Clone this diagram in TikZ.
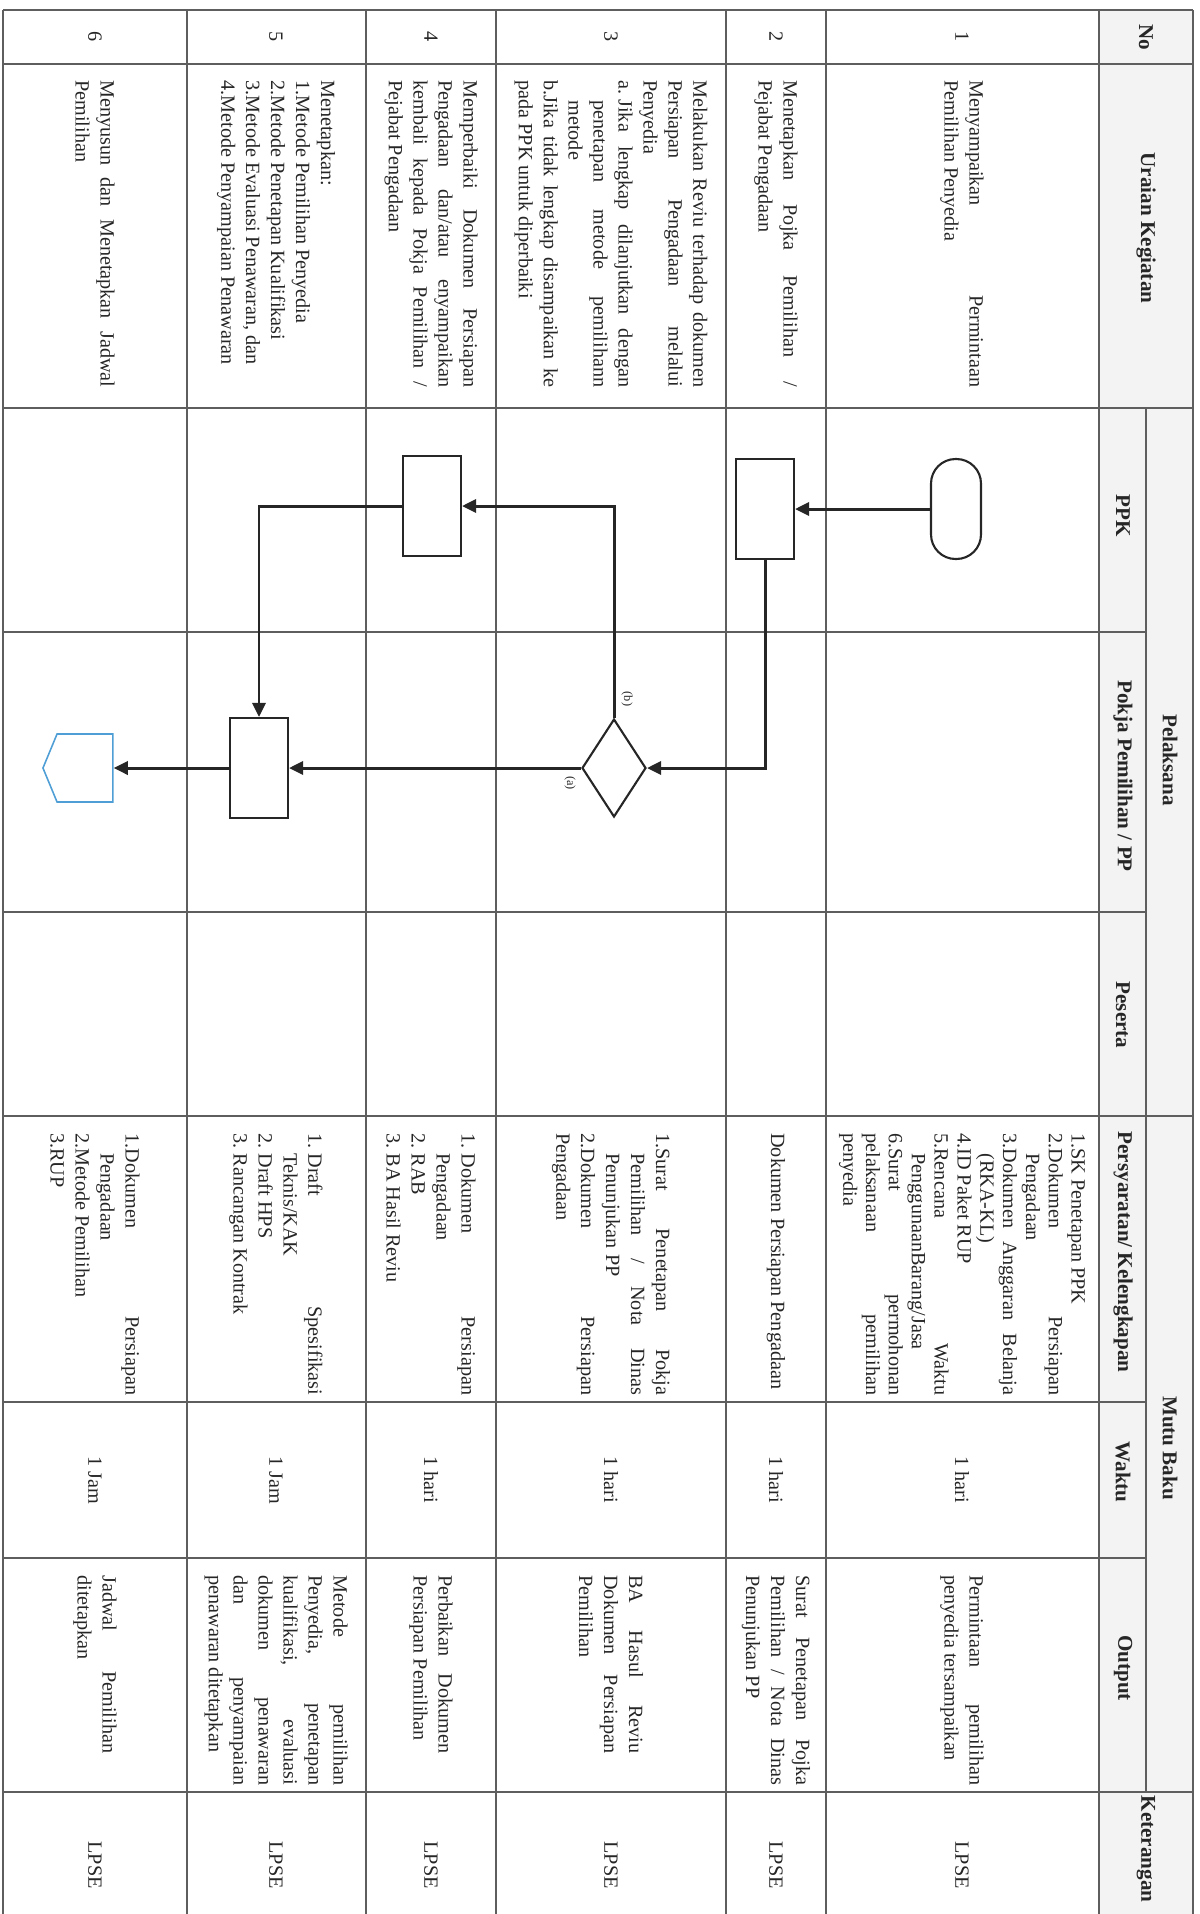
\documentclass[tikz,border=0pt]{standalone}
\usepackage{fontspec}
\setmainfont{Liberation Serif}
\usetikzlibrary{shapes.geometric,shapes.symbols,arrows.meta}
\definecolor{inkgray}{HTML}{262626}
\definecolor{rulegray}{HTML}{5E5E5E}
\definecolor{headgray}{HTML}{F3F3F3}
\definecolor{connblue}{HTML}{4F9FD6}
\newcommand{\itm}{\hangindent=11.5pt\hangafter=1\relax}
\newcommand{\gap}{\hspace{2.9pt}}

\begin{document}
\begin{tikzpicture}[x=0.02cm, y=-0.02cm,
  every node/.style={text=inkgray},
  rule/.style={draw=rulegray, line width=0.75pt},
  head/.style={font=\fontsize{12}{14}\selectfont\bfseries, rotate=-90, inner sep=0pt},
  mid/.style={font=\fontsize{11.5}{14}\selectfont, rotate=-90, inner sep=0pt},
  cell/.style={font={\fontsize{11.5}{14.2}\selectfont}, rotate=-90, anchor=west, inner sep=0pt, align=justify},
  uraian/.style={cell, text width=6.14cm},
  syarat/.style={cell, text width=5.24cm},
  hasil/.style={cell, text width=4.2cm},
  box/.style={draw=inkgray, line width=1.2pt, minimum width=1.16cm, minimum height=2cm, inner sep=0pt},
  arr/.style={-{Triangle[length=8pt,width=7.5pt]}, line width=1.7pt, draw=inkgray},
  tag/.style={font=\fontsize{7}{8}\selectfont, rotate=-90, inner sep=0pt},
]
\useasboundingbox (0,0) rectangle (1200,1914);

% table grid
\fill[headgray] (1099,10) rectangle (1193,1914);
\draw[rule] (3,10) -- (1193,10);
\foreach \y in {64,408,1116,1792} \draw[rule] (3,\y) -- (1193,\y);
\foreach \y in {632,912,1402,1558} \draw[rule] (3,\y) -- (1146,\y);
\foreach \x in {3,187,366,496,726,826,1099,1193} \draw[rule] (\x,10) -- (\x,1914);
\draw[rule] (1146,408) -- (1146,1792);

% header
\node[head] (hNo) at (1146,37) {No};
\node[head] (hUraian) at (1146,228) {Uraian Kegiatan};
\node[head] (hPelaksana) at (1170,760) {Pelaksana};
\node[head] (hPPK) at (1123,516) {PPK};
\node[head] (hPokja) at (1123,776) {Pokja Pemilihan / PP};
\node[head] (hPeserta) at (1123,1015) {Peserta};
\node[head] (hMutu) at (1170,1448) {Mutu Baku};
\node[head] (hSyarat) at (1123,1252) {Persyaratan/ Kelengkapan};
\node[head] (hWaktu) at (1123,1472) {Waktu};
\node[head] (hOutput) at (1123,1668) {Output};
\node[head] (hKet) at (1146,1849) {Keterangan};

% nomor
\node[mid] (no1) at (962,37) {1};
\node[mid] (no2) at (776,37) {2};
\node[mid] (no3) at (611,37) {3};
\node[mid] (no4) at (431,37) {4};
\node[mid] (no5) at (276,37) {5};
\node[mid] (no6) at (95,37) {6};

% uraian kegiatan
\node[uraian] (ur1) at (962,80) {Menyampaikan Permintaan\linebreak Pemilihan Penyedia};
\node[uraian] (ur2) at (776,80) {Menetapkan Pojka Pemilihan /\linebreak Pejabat Pengadaan};
\node[uraian] (ur3) at (611,80) {Melakukan Reviu terhadap dokumen\linebreak Persiapan Pengadaan melalui\linebreak Penyedia\par
  \itm a.\gap Jika lengkap dilanjutkan dengan\linebreak penetapan metode pemilihann\linebreak metode\par
  \itm b.Jika tidak lengkap disampaikan ke\linebreak pada PPK untuk diperbaiki};
\node[uraian] (ur4) at (431,80) {Memperbaiki Dokumen Persiapan\linebreak Pengadaan dan/atau enyampaikan\linebreak kembali kepada Pokja Pemilihan /\linebreak Pejabat Pengadaan};
\node[uraian] (ur5) at (276,80) {Menetapkan:\newline 1.Metode Pemilihan Penyedia\newline 2.Metode Penetapan Kualifikasi\newline 3.Metode Evaluasi Penawaran, dan\newline 4.Metode Penyampaian Penawaran};
\node[uraian] (ur6) at (95,80) {Menyusun dan Menetapkan Jadwal\linebreak Pemilihan};

% alur
\node[draw=inkgray, line width=1.2pt, rounded corners=0.49cm, minimum width=1cm, minimum height=2cm] (mulai) at (956,509) {};
\node[box] (ppk2) at (765,509) {};
\node[diamond, draw=inkgray, line width=1.2pt, minimum width=1.28cm, minimum height=1.96cm, inner sep=0pt] (reviu) at (614,768) {};
\node[box] (ppk4) at (432,506) {};
\node[box] (pokja5) at (259,768) {};
\node[signal, signal to=west, signal pointer angle=135, draw=connblue, line width=0.9pt, minimum width=1.4cm, minimum height=1.36cm, inner sep=0pt] (lanjut) at (85,768) {};

\draw[arr] (mulai) -- (ppk2);
\draw[arr] (ppk2.south) |- (reviu.east);
\draw[arr] (reviu.north) |- (ppk4.east);
\draw[arr] (ppk4.west) -| (pokja5.north);
\draw[arr] (reviu.west) -- (pokja5.east);
\draw[arr] (pokja5.west) -- (lanjut.east);
\node[tag] (tagB) at (627,699) {(b)};
\node[tag] (tagA) at (570,783) {(a)};

% persyaratan
\node[syarat, font={\fontsize{11.5}{13}\selectfont}] (sy1) at (962,1133) {\itm 1.SK Penetapan PPK\par
  \itm 2.Dokumen Persiapan\linebreak Pengadaan\par
  \itm 3.Dokumen Anggaran Belanja\linebreak (RKA-KL)\par
  \itm 4.ID Paket RUP\par
  \itm 5.Rencana Waktu\linebreak PenggunaanBarang/Jasa\par
  \itm 6.Surat permohonan\linebreak pelaksanaan pemilihan\linebreak penyedia};
\node[syarat] (sy2) at (776,1133) {Dokumen Persiapan Pengadaan};
\node[syarat] (sy3) at (611,1133) {\itm 1.Surat Penetapan Pokja\linebreak Pemilihan / Nota Dinas\linebreak Penunjukan PP\par
  \itm 2.Dokumen Persiapan\linebreak Pengadaan};
\node[syarat] (sy4) at (431,1133) {\itm 1.\gap Dokumen Persiapan\linebreak Pengadaan\par
  \itm 2.\gap RAB\par
  \itm 3.\gap BA Hasil Reviu};
\node[syarat] (sy5) at (276,1133) {\itm 1.\gap Draft Spesifikasi\linebreak Teknis/KAK\par
  \itm 2.\gap Draft HPS\par
  \itm 3.\gap Rancangan Kontrak};
\node[syarat] (sy6) at (95,1133) {\itm 1.Dokumen Persiapan\linebreak Pengadaan\par
  \itm 2.Metode Pemilihan\par
  \itm 3.RUP};

% waktu
\node[mid] (wk1) at (962,1480) {1 hari};
\node[mid] (wk2) at (776,1480) {1 hari};
\node[mid] (wk3) at (611,1480) {1 hari};
\node[mid] (wk4) at (431,1480) {1 hari};
\node[mid] (wk5) at (276,1480) {1 Jam};
\node[mid] (wk6) at (95,1480) {1 Jam};

% output
\node[hasil] (out1) at (962,1575) {Permintaan pemilihan\linebreak penyedia tersampaikan};
\node[hasil] (out2) at (776,1575) {Surat Penetapan Pojka\linebreak Pemilihan / Nota Dinas\linebreak Penunjukan PP};
\node[hasil, text width=3.56cm] (out3) at (611,1575) {BA Hasul Reviu\linebreak Dokumen Persiapan\linebreak Pemilihan};
\node[hasil, text width=3.56cm] (out4) at (431,1575) {Perbaikan Dokumen\linebreak Persiapan Pemilihan};
\node[hasil] (out5) at (276,1575) {Metode pemilihan\linebreak Penyedia, penetapan\linebreak kualifikasi, evaluasi\linebreak dokumen penawaran\linebreak dan penyampaian\linebreak penawaran ditetapkan};
\node[hasil, text width=3.56cm] (out6) at (95,1575) {Jadwal Pemilihan\linebreak ditetapkan};

% keterangan
\foreach \x/\n in {962/1,776/2,611/3,431/4,276/5,95/6}
  \node[mid] (ket\n) at (\x,1865) {LPSE};

\end{tikzpicture}
\end{document}
